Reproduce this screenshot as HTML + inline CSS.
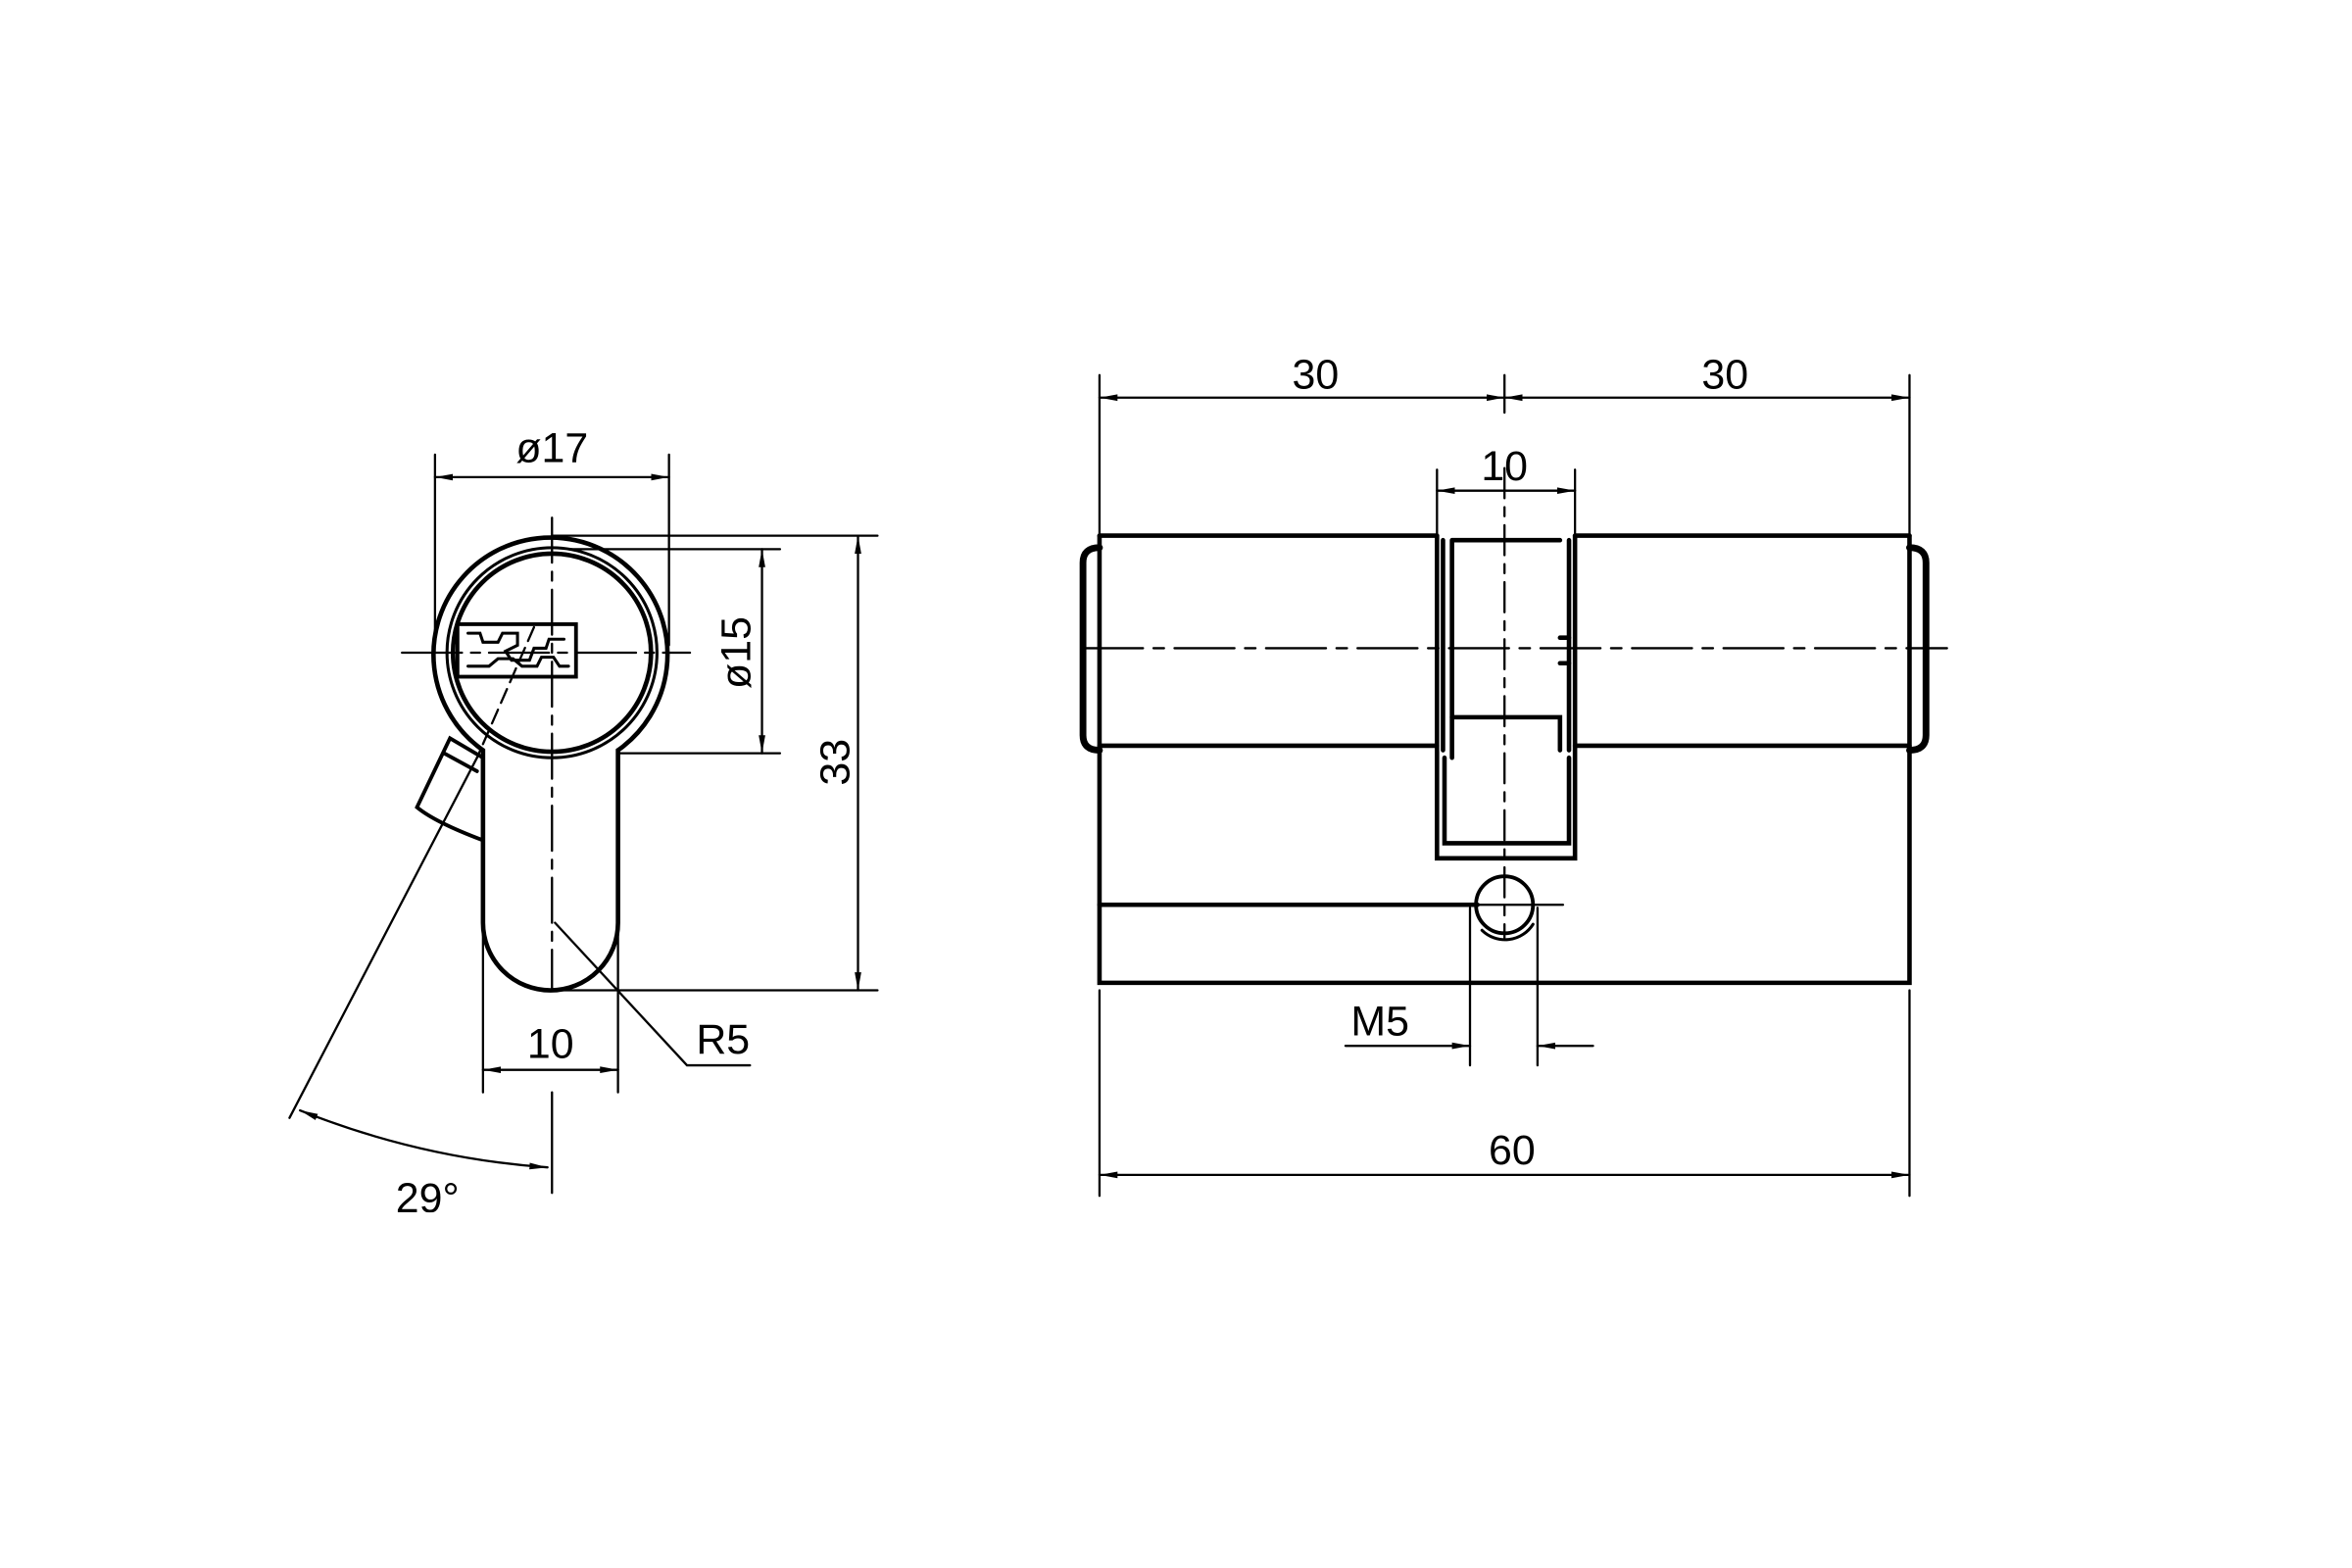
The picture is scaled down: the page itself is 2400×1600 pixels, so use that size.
<!DOCTYPE html>
<html><head><meta charset="utf-8"><style>
html,body{margin:0;padding:0;background:#fff;width:2400px;height:1600px;overflow:hidden}
svg{display:block}
text{font-family:"Liberation Sans","DejaVu Sans",sans-serif;fill:#000}
</style></head><body>
<svg width="2400" height="1600" viewBox="0 0 1568 1045" preserveAspectRatio="none" xmlns="http://www.w3.org/2000/svg">
<defs>
<marker id="a" viewBox="0 0 12 6" refX="12" refY="3" markerWidth="12" markerHeight="6" markerUnits="userSpaceOnUse" orient="auto-start-reverse"><path d="M0,0.8 L12,3 L0,5.2z" fill="#000"/></marker>
</defs>
<g fill="none" stroke="#000" stroke-linecap="round">
<g stroke-width="3">
<path d="M322,500 A78,78 0 1 1 412,500 L412,615 A45,45 0 0 1 322,615 Z"/>
<circle cx="368" cy="435" r="70" stroke-width="2"/>
<circle cx="368" cy="435" r="66"/>
<rect x="305" y="416" width="79" height="35" stroke-width="2.5"/>
<path d="M312,422 l8,0 l2,6 l10,0 l3,-6 l10,0 l0,8 l-8,4 l4,6 l12,0 l3,-8 l8,0 l2,-6 l10,0 M312,444 l14,0 l6,-5 l10,0 l6,5 l10,0 l3,-6 l8,0 l4,6 l6,0" stroke-width="2"/>
<path d="M322,505 L300,492 L278,538 Q290,548 322,560" stroke-width="2.5"/>
<path d="M296,502 L318,514" stroke-width="2.5"/>
</g>
<g stroke-width="1.5">
<path d="M268,435 H460" stroke-dasharray="40,6,6,6"/>
<path d="M368,345 V660" stroke-dasharray="30,6,6,6"/>
<path d="M368,728 V795"/>
<path d="M356,418 L318,505" stroke-dasharray="10,5"/>
<path d="M318,505 L193,745"/>
<path d="M290,303 V430 M446,303 V430"/>
<path d="M290,318 H446" marker-start="url(#a)" marker-end="url(#a)"/>
<path d="M380,366 H520 M412,502 H520"/>
<path d="M508,366 V502" marker-start="url(#a)" marker-end="url(#a)"/>
<path d="M368,357 H585 M368,660 H585"/>
<path d="M572,357 V660" marker-start="url(#a)" marker-end="url(#a)"/>
<path d="M322,620 V728 M412,620 V728"/>
<path d="M322,713 H412" marker-start="url(#a)" marker-end="url(#a)"/>
<path d="M370,615 L458,710 H500"/>
<path d="M200,740 Q280,772 365,778" marker-start="url(#a)" marker-end="url(#a)"/>
</g>
<g stroke-width="3">
<path d="M733,357 H958 M1050,357 H1273 M733,497 H958 M1050,497 H1273"/>
<path d="M733,357 V655 H1273 V357"/>
<path d="M733,365 Q722,365 722,375 V490 Q722,500 733,500" stroke-width="4.5"/>
<path d="M1273,365 Q1284,365 1284,375 V490 Q1284,500 1273,500" stroke-width="4.5"/>
<path d="M958,357 V572 H1050 V357"/>
<path d="M968,360 H1040 M968,360 V505 M962,360 V500 M1046,360 V500"/>
<path d="M968,478 H1040 V500"/>
<path d="M963,505 V562 H1046 V505"/>
<path d="M1040,425 H1046 M1040,442 H1046"/>
<path d="M733,603 H985"/>
<circle cx="1003" cy="603" r="19" stroke-width="2.5"/>
<path d="M988,620 A22,22 0 0 0 1022,616" stroke-width="2"/>
</g>
<g stroke-width="1.5">
<path d="M722,432 H1298" stroke-dasharray="40,7,7,7"/>
<path d="M1003,312 V625" stroke-dasharray="20,6,6,6"/>
<path d="M1003,250 V275"/>
<path d="M985,603 H1042"/>
<path d="M733,250 V357 M1273,250 V357"/>
<path d="M733,265 H1003" marker-start="url(#a)" marker-end="url(#a)"/>
<path d="M1003,265 H1273" marker-start="url(#a)" marker-end="url(#a)"/>
<path d="M958,313 V357 M1050,313 V357"/>
<path d="M958,327 H1050" marker-start="url(#a)" marker-end="url(#a)"/>
<path d="M980,605 V710 M1025,605 V710"/>
<path d="M897,697 H980" marker-end="url(#a)"/>
<path d="M1062,697 H1025" marker-end="url(#a)"/>
<path d="M733,660 V797 M1273,660 V797"/>
<path d="M733,783 H1273" marker-start="url(#a)" marker-end="url(#a)"/>
</g>
</g>
<g font-size="28">
<text x="368" y="308" text-anchor="middle">ø17</text>
<text x="0" y="0" text-anchor="middle" transform="translate(500,435) rotate(-90)">ø15</text>
<text x="0" y="0" text-anchor="middle" transform="translate(566,508) rotate(-90)">33</text>
<text x="367" y="705" text-anchor="middle">10</text>
<text x="482" y="702" text-anchor="middle">R5</text>
<text x="285" y="808" text-anchor="middle">29°</text>
<text x="877" y="259" text-anchor="middle">30</text>
<text x="1150" y="259" text-anchor="middle">30</text>
<text x="1003" y="320" text-anchor="middle">10</text>
<text x="920" y="690" text-anchor="middle">M5</text>
<text x="1008" y="776" text-anchor="middle">60</text>
</g>
<rect x="0" y="808" width="1568" height="237" fill="#fff"/>
</svg>
</body></html>
